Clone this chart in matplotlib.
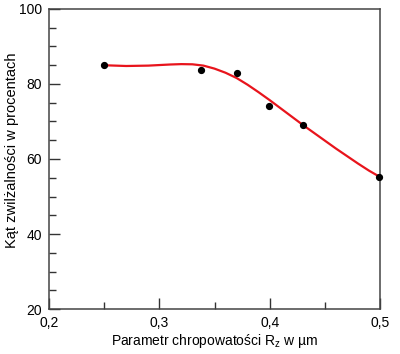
import matplotlib
matplotlib.use("Agg")
import matplotlib.pyplot as plt
from matplotlib.ticker import MultipleLocator, FuncFormatter

plt.rcParams["font.family"] = ["Liberation Sans", "DejaVu Sans"]

# measured points
rz = [0.25, 0.338, 0.37, 0.399, 0.43, 0.499]
kat = [85.0, 83.7, 83.0, 74.0, 69.0, 55.2]

# fitted curve
fit_x = [0.25, 0.27, 0.29, 0.31, 0.32, 0.33, 0.34, 0.35, 0.36, 0.37, 0.38,
         0.39, 0.40, 0.41, 0.42, 0.43, 0.44, 0.45, 0.46, 0.47, 0.48, 0.49, 0.50]
fit_y = [85.0, 84.8, 84.9, 85.2, 85.3, 85.25, 84.9, 84.1, 83.0, 81.6, 79.8,
         77.8, 75.7, 73.5, 71.3, 69.1, 67.0, 64.9, 62.8, 60.8, 58.8, 56.9, 55.2]

fig = plt.figure(figsize=(4.0, 3.54), dpi=100)
ax = fig.add_axes([0.1225, 0.1271, 0.8275, 0.8475])

ax.plot(fit_x, fit_y, color="#e8141c", lw=1.6, zorder=2)
ax.plot(rz, kat, "o", color="black", ms=4.2, zorder=3, clip_on=False)

ax.set_xlim(0.2, 0.5)
ax.set_ylim(20, 100)
ax.xaxis.set_major_locator(MultipleLocator(0.1))
ax.xaxis.set_minor_locator(MultipleLocator(0.05))
ax.yaxis.set_major_locator(MultipleLocator(20))
ax.yaxis.set_minor_locator(MultipleLocator(5))
ax.xaxis.set_major_formatter(FuncFormatter(lambda v, p: f"{v:.1f}".replace(".", ",")))

ax.tick_params(which="both", direction="in", top=False, right=False,
               labelsize=10, color="#333333", width=1.0)
ax.tick_params(which="major", length=8, pad=5)
ax.tick_params(which="minor", length=5)

for s in ax.spines.values():
    s.set_color("#444444")
    s.set_linewidth(1.1)

ax.set_xlabel("Parametr chropowatości R$_\\mathregular{z}$ w µm", fontsize=10,
              fontweight="medium", va="center")
ax.set_ylabel("Kąt zwilżalności w procentach", fontsize=10.5,
              fontweight="medium", va="center")
ax.xaxis.set_label_coords(0.5, -0.105)
ax.yaxis.set_label_coords(-0.112, 0.53)

fig.savefig("out.png", dpi=100)
